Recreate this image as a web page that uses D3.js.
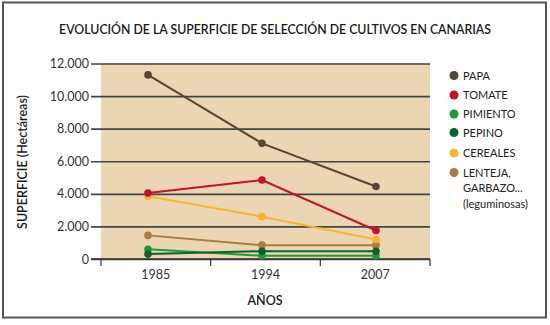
<!DOCTYPE html>
<html><head><meta charset="utf-8">
<script src="https://cdn.jsdelivr.net/npm/d3@7"></script>
<style>
html,body{margin:0;padding:0;background:#fff;}
svg{display:block;font-family:"Lato","Open Sans",sans-serif;}
</style></head>
<body>
<svg id="chart" width="550" height="325"></svg>
<script>
const years = ["1985", "1994", "2007"];
const seriesNames = ["PAPA", "TOMATE", "PIMIENTO", "PEPINO", "CEREALES", "LENTEJA"];
const papa = [11300, 7100, 4450];
const tomate = [4050, 4850, 1750];
const pimiento = [600, 200, 200];
const pepino = [300, 480, 480];
const cereales = [3850, 2600, 1200];
const lenteja = [1450, 850, 850];
const yTicks = [0, 2000, 4000, 6000, 8000, 10000, 12000];
const yTickLabels = ["0", "2.000", "4.000", "6.000", "8.000", "10.000", "12.000"];
const legendLabels = [["PAPA"], ["TOMATE"], ["PIMIENTO"], ["PEPINO"], ["CEREALES"], ["LENTEJA,", "GARBAZO...", "(leguminosas)"]];
const colors = ["#5b4436", "#c21128", "#1d9a40", "#0b6130", "#f9b233", "#a97a47"];

const seriesValues = [papa, tomate, pimiento, pepino, cereales, lenteja];
const svg = d3.select("#chart");

// frame
svg.append("rect").attr("x", 3).attr("y", 2.5).attr("width", 543).attr("height", 315)
  .attr("fill", "#fff").attr("stroke", "#555").attr("stroke-width", 2);

const pLeft = 101, pRight = 430, pTop = 63.5, pBottom = 259;
const x = d3.scaleBand().domain(years).range([pLeft, pRight]);
const xp = d3.scalePoint().domain(years).range([148, 376]);
const y = d3.scaleLinear().domain([0, 12000]).range([pBottom, pTop]);

svg.append("rect").attr("x", pLeft).attr("y", pTop).attr("width", pRight - pLeft).attr("height", pBottom - pTop)
  .attr("fill", "#ecd5b2");

// title
svg.append("text").attr("x", 275).attr("y", 34).attr("text-anchor", "middle")
  .attr("font-size", 12.3).attr("font-weight", 600).attr("fill", "#1a1a1a")
  .text("EVOLUCIÓN DE LA SUPERFICIE DE SELECCIÓN DE CULTIVOS EN CANARIAS");

// y axis gridlines
const gridW = pRight - 91;
const yAxis = d3.axisLeft(y).tickValues(yTicks).tickFormat((d, i) => yTickLabels[i])
  .tickSize(-gridW).tickPadding(3);
const gy = svg.append("g").attr("transform", `translate(${pRight},0)`).call(yAxis);
gy.select(".domain").remove();
gy.selectAll(".tick line").attr("stroke", "#444").attr("stroke-width", 1.6)
  .attr("x1", -gridW).attr("x2", 0);
gy.selectAll(".tick text").attr("x", -(gridW + 2)).attr("font-size", 12.5).attr("fill", "#333")
  .attr("font-family", "Lato, sans-serif");

// x axis
const xAxis = d3.axisBottom(x).tickSize(0).tickPadding(11);
const gx = svg.append("g").attr("transform", `translate(0,${pBottom})`).call(xAxis);
gx.select(".domain").remove();
gx.selectAll(".tick text").attr("font-size", 12.5).attr("fill", "#333").attr("font-family", "Lato, sans-serif");
svg.append("line").attr("x1", 91).attr("x2", pRight).attr("y1", pBottom).attr("y2", pBottom)
  .attr("stroke", "#333").attr("stroke-width", 1.6);
const bounds = years.map(d => x(d)).concat([x(years[years.length - 1]) + x.bandwidth()]);
svg.selectAll(".bt").data(bounds).enter().append("line")
  .attr("x1", d => d).attr("x2", d => d).attr("y1", pBottom).attr("y2", pBottom + 7)
  .attr("stroke", "#333").attr("stroke-width", 1.2);

svg.append("text").attr("x", 265).attr("y", 305).attr("text-anchor", "middle")
  .attr("font-size", 12.5).attr("font-weight", 600).attr("fill", "#1a1a1a").text("AÑOS");

svg.append("text").attr("transform", "translate(27,162) rotate(-90)").attr("text-anchor", "middle")
  .attr("font-size", 12.5).attr("font-weight", 600).attr("fill", "#1a1a1a").text("SUPERFICIE (Hectáreas)");

// lines
const line = d3.line().x((d, i) => xp(years[i])).y(d => y(d));
const drawOrder = [5, 2, 3, 4, 1, 0];
drawOrder.forEach(si => {
  const g = svg.append("g");
  g.append("path").datum(seriesValues[si]).attr("d", line).attr("fill", "none")
    .attr("stroke", colors[si]).attr("stroke-width", 2);
  g.selectAll("circle").data(seriesValues[si]).enter().append("circle")
    .attr("cx", (d, i) => xp(years[i])).attr("cy", d => y(d)).attr("r", 3.8).attr("fill", colors[si]);
});

// legend
const legendY = [75.5, 95, 114, 132.5, 153, 172.5];
const lg = svg.append("g");
seriesNames.forEach((n, i) => {
  lg.append("circle").attr("cx", 454).attr("cy", legendY[i]).attr("r", 4.5).attr("fill", colors[i]);
  const t = lg.append("text").attr("x", 463).attr("y", legendY[i] + 4).attr("font-size", 11)
    .attr("fill", "#222");
  legendLabels[i].forEach((l, j) => {
    t.append("tspan").attr("x", 463).attr("dy", j === 0 ? 0 : 15.5).text(l);
  });
});
</script>
</body></html>
